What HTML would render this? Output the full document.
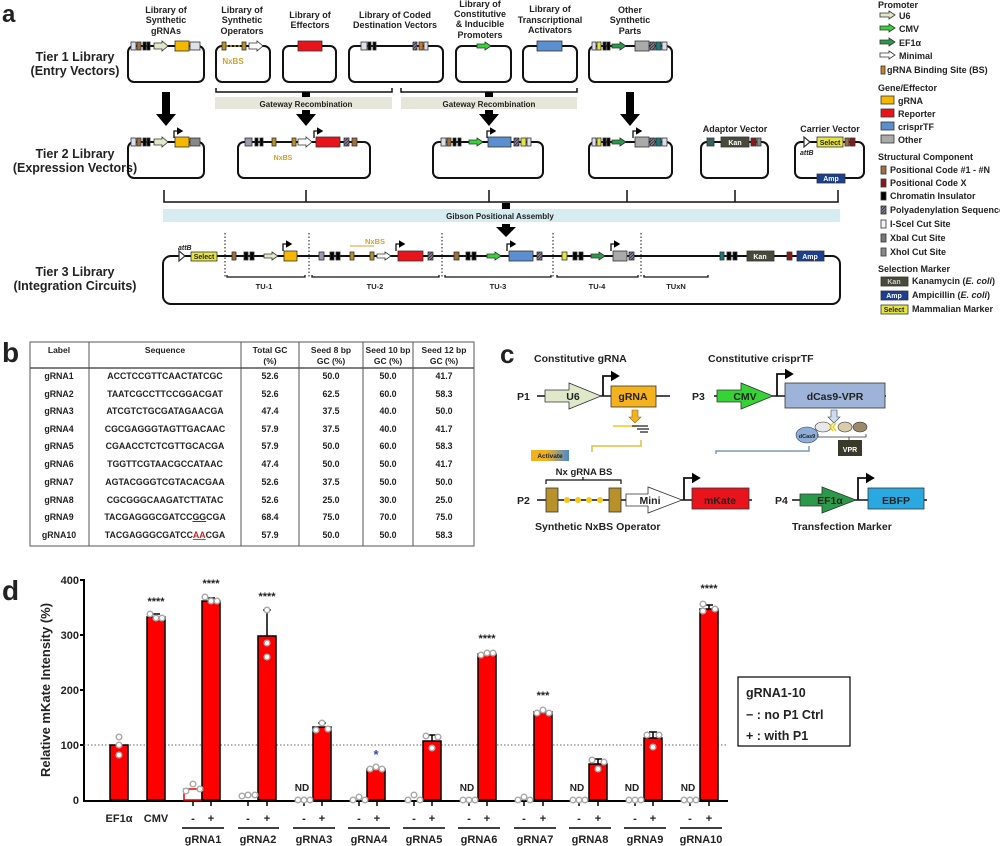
<!DOCTYPE html>
<html><head><meta charset="utf-8"><style>
html,body{margin:0;padding:0;background:#fff}
svg{display:block}
text{font-family:"Liberation Sans",Arial,sans-serif;font-weight:bold;fill:#222}
</style></head><body>
<svg width="1000" height="846" viewBox="0 0 1000 846" xmlns="http://www.w3.org/2000/svg">
<defs>
<marker id="ah" markerWidth="6" markerHeight="6" refX="4" refY="3" orient="auto"><path d="M0,0 L5,3 L0,6 z" fill="#000"/></marker>
<pattern id="hat" width="3" height="3" patternUnits="userSpaceOnUse"><rect width="3" height="3" fill="#8a7a9a"/><path d="M0,3 L3,0" stroke="#333" stroke-width="0.8"/></pattern>
<linearGradient id="act" x1="0" x2="1"><stop offset="0.4" stop-color="#f2b21f"/><stop offset="1" stop-color="#4a88d0"/></linearGradient>
</defs>

<!-- ============ PANEL A ============ -->
<text x="2" y="22" font-size="24">a</text>
<g font-size="12.5" text-anchor="middle">
<text x="75" y="61">Tier 1 Library</text><text x="75" y="75">(Entry Vectors)</text>
<text x="75" y="158">Tier 2 Library</text><text x="75" y="172">(Expression Vectors)</text>
<text x="75" y="276">Tier 3 Library</text><text x="75" y="290">(Integration Circuits)</text>
</g>
<g font-size="9" text-anchor="middle">
<text x="166" y="13">Library of</text><text x="166" y="23">Synthetic</text><text x="166" y="34">gRNAs</text>
<text x="242" y="13">Library of</text><text x="242" y="23">Synthetic</text><text x="242" y="34">Operators</text>
<text x="310" y="18">Library of</text><text x="310" y="28">Effectors</text>
<text x="395" y="18">Library of Coded</text><text x="395" y="28">Destination Vectors</text>
<text x="480" y="7">Library of</text><text x="480" y="17">Constitutive</text><text x="480" y="27">&amp; Inducible</text><text x="480" y="38">Promoters</text>
<text x="550" y="12">Library of</text><text x="550" y="23">Transcriptional</text><text x="550" y="33">Activators</text>
<text x="630" y="13">Other</text><text x="630" y="23">Synthetic</text><text x="630" y="34">Parts</text>
<text x="735" y="132">Adaptor Vector</text>
<text x="830" y="132">Carrier Vector</text>
</g>
<g fill="none" stroke="#111" stroke-width="2">
<rect x="128" y="46" width="76" height="36" rx="6"/>
<rect x="216" y="46" width="54" height="36" rx="6"/>
<rect x="283" y="46" width="53" height="36" rx="6"/>
<rect x="349" y="46" width="94" height="36" rx="6"/>
<rect x="456" y="46" width="55" height="36" rx="6"/>
<rect x="523" y="46" width="54" height="36" rx="6"/>
<rect x="589" y="46" width="83" height="36" rx="6"/>
<rect x="128" y="142" width="76" height="36" rx="6"/>
<rect x="238" y="142" width="132" height="36" rx="6"/>
<rect x="433" y="142" width="110" height="36" rx="6"/>
<rect x="589" y="142" width="83" height="36" rx="6"/>
<rect x="701" y="142" width="67" height="36" rx="6"/>
<rect x="795" y="142" width="69" height="36" rx="6"/>
<rect x="163" y="256" width="677" height="48" rx="8"/>
</g>
<g stroke="#333" stroke-width="0.8">
<rect x="131" y="42" width="5" height="8" fill="#dde0ea"/><rect x="137" y="42" width="4" height="8" fill="#a0703a"/>
<rect x="143" y="42" width="3" height="8" fill="#000"/><rect x="147" y="42" width="3" height="8" fill="#000"/>
<path d="M154,43 h8 v-2 l6,5 l-6,5 v-2 h-8 z" fill="#dfe8c8"/>
<rect x="175" y="41" width="14" height="10" fill="#f5b800"/><rect x="190" y="42" width="10" height="8" fill="#dde0ea"/>
<rect x="222" y="42" width="4" height="8" fill="#b8912a"/><rect x="242" y="42" width="4" height="8" fill="#b8912a"/>
<path d="M249,43 h8 v-2 l6,5 l-6,5 v-2 h-8 z" fill="#fff"/>
<rect x="298" y="41" width="24" height="10" fill="#e8131b"/>
<rect x="361" y="42" width="6" height="8" fill="#dde0ea"/><rect x="368" y="42" width="3" height="8" fill="#000"/><rect x="373" y="42" width="3" height="8" fill="#000"/>
<rect x="413" y="42" width="4" height="8" fill="url(#hat)"/><rect x="419" y="42" width="4" height="8" fill="#c8782a"/><rect x="424" y="42" width="4" height="8" fill="#dde0ea"/>
<path d="M477,44 h8 v-2 l6,4 l-6,4 v-2 h-8 z" fill="#35d335"/>
<rect x="537" y="41" width="25" height="10" fill="#5b8fd0"/>
<rect x="592" y="42" width="4" height="8" fill="#dde0ea"/><rect x="597" y="42" width="4" height="8" fill="#e5e540"/><rect x="603" y="42" width="3" height="8" fill="#000"/><rect x="607" y="42" width="3" height="8" fill="#000"/>
<path d="M612,44 h8 v-2 l6,4 l-6,4 v-2 h-8 z" fill="#2a9a4a"/>
<rect x="635" y="41" width="14" height="10" fill="#aaa"/><rect x="650" y="42" width="5" height="8" fill="url(#hat)"/><rect x="656" y="42" width="5" height="8" fill="#1a7a7a"/><rect x="662" y="42" width="5" height="8" fill="#dde0ea"/>
</g>
<path d="M226,46 h16" stroke="#b8912a" stroke-width="1.5" stroke-dasharray="2,2"/>
<text x="233" y="64" font-size="8" text-anchor="middle" style="fill:#d4a02a">NxBS</text>
<g stroke="#111" stroke-width="1.5" fill="none">
<path d="M216,88 v4 h176 v-4"/><path d="M401,88 v4 h176 v-4"/>
<path d="M164,190 v12 h674 v-12"/><path d="M306,190 v12"/><path d="M489,190 v12"/><path d="M627,190 v12"/><path d="M735,190 v12"/>
</g>
<rect x="215" y="97" width="177" height="12" fill="#e6e6da"/><rect x="401" y="97" width="176" height="12" fill="#e6e6da"/>
<text x="306" y="107" font-size="8" text-anchor="middle">Gateway Recombination</text>
<text x="489" y="107" font-size="8" text-anchor="middle">Gateway Recombination</text>
<rect x="163" y="209" width="677" height="13" fill="#d6ecf1"/>
<text x="500" y="219" font-size="8" text-anchor="middle">Gibson Positional Assembly</text>
<g fill="#000">
<path d="M162,92 h8 v22 h6 l-10,12 l-10,-12 h6 z"/>
<path d="M302,110 h8 v4 h6 l-10,12 l-10,-12 h6 z"/>
<path d="M485,110 h8 v4 h6 l-10,12 l-10,-12 h6 z"/>
<path d="M626,92 h8 v22 h6 l-10,12 l-10,-12 h6 z"/>
<path d="M502,224 h8 v3 h6 l-10,10 l-10,-10 h6 z"/>
<rect x="302" y="92" width="8" height="5"/><rect x="485" y="92" width="8" height="5"/><rect x="502" y="203" width="8" height="6"/>
</g>
<g stroke="#333" stroke-width="0.8">
<rect x="131" y="138" width="5" height="8" fill="#dde0ea"/><rect x="137" y="138" width="4" height="8" fill="#a0703a"/><rect x="143" y="138" width="3" height="8" fill="#000"/><rect x="147" y="138" width="3" height="8" fill="#000"/>
<path d="M154,139 h8 v-2 l6,5 l-6,5 v-2 h-8 z" fill="#dfe8c8"/>
<rect x="175" y="137" width="14" height="10" fill="#f5b800"/><rect x="190" y="138" width="10" height="8" fill="#888"/>
<rect x="245" y="138" width="7" height="8" fill="#9a9ab0"/><rect x="255" y="138" width="3" height="8" fill="#000"/><rect x="260" y="138" width="3" height="8" fill="#000"/>
<rect x="272" y="138" width="4" height="8" fill="#b8912a"/><rect x="292" y="138" width="4" height="8" fill="#b8912a"/>
<path d="M298,139 h8 v-2 l6,5 l-6,5 v-2 h-8 z" fill="#fff"/>
<rect x="316" y="137" width="24" height="10" fill="#e8131b"/><rect x="344" y="138" width="5" height="8" fill="url(#hat)"/><rect x="352" y="138" width="5" height="8" fill="#a0703a"/>
<rect x="441" y="138" width="5" height="8" fill="#dde0ea"/><rect x="447" y="138" width="4" height="8" fill="#a0703a"/><rect x="453" y="138" width="3" height="8" fill="#000"/><rect x="458" y="138" width="3" height="8" fill="#000"/>
<path d="M469,140 h8 v-2 l6,4 l-6,4 v-2 h-8 z" fill="#35d335"/>
<rect x="488" y="137" width="23" height="10" fill="#5b8fd0"/><rect x="514" y="138" width="5" height="8" fill="url(#hat)"/><rect x="521" y="138" width="5" height="8" fill="#e5e540"/><rect x="527" y="138" width="4" height="8" fill="#dde0ea"/>
<rect x="592" y="138" width="4" height="8" fill="#dde0ea"/><rect x="597" y="138" width="4" height="8" fill="#e5e540"/><rect x="603" y="138" width="3" height="8" fill="#000"/><rect x="607" y="138" width="3" height="8" fill="#000"/>
<path d="M612,140 h8 v-2 l6,4 l-6,4 v-2 h-8 z" fill="#2a9a4a"/>
<rect x="635" y="137" width="14" height="10" fill="#aaa"/><rect x="650" y="138" width="5" height="8" fill="url(#hat)"/><rect x="656" y="138" width="5" height="8" fill="#1a7a7a"/><rect x="662" y="138" width="5" height="8" fill="#dde0ea"/>
<rect x="707" y="138" width="7" height="8" fill="#3a6060"/><rect x="721" y="137" width="28" height="10" fill="#4a4a3a"/><rect x="751" y="138" width="5" height="8" fill="#8a1a1a"/><rect x="757" y="138" width="4" height="8" fill="#888"/>
<path d="M804,137 l6,5 l-6,5 z" fill="#fff" stroke-width="1.2"/>
<rect x="817" y="137" width="26" height="10" fill="#e5e540"/><rect x="845" y="138" width="4" height="8" fill="#a0703a"/><rect x="850" y="138" width="5" height="8" fill="#8a1a1a"/>
<rect x="817" y="174" width="28" height="9" fill="#1d3f8f"/>
</g>
<g font-size="7" text-anchor="middle">
<text x="735" y="145" style="fill:#fff">Kan</text><text x="830" y="145">Select</text><text x="831" y="181" style="fill:#fff">Amp</text>
<text x="283" y="160" style="fill:#d4a02a">NxBS</text>
</g>
<text x="800" y="155" font-size="7" font-style="italic">attB</text>
<g stroke="#111" stroke-width="1.3" fill="none" marker-end="url(#ah)">
<path d="M174,138 v-7 h8"/><path d="M314,138 v-7 h8"/><path d="M487,138 v-7 h8"/><path d="M633,138 v-7 h8"/>
</g>
<g stroke="#111" stroke-width="1" stroke-dasharray="1.5,2" fill="none"><path d="M225,233 v44"/><path d="M309,233 v44"/><path d="M442,233 v44"/><path d="M553,233 v44"/><path d="M641,233 v44"/><path d="M645,256 h60" stroke-width="2"/></g>
<g stroke="#111" stroke-width="1.3" fill="none">
<path d="M227,275 v2 h78 v-2"/><path d="M312,275 v2 h127 v-2"/><path d="M445,275 v2 h106 v-2"/><path d="M557,275 v2 h81 v-2"/><path d="M644,275 v2 h64 v-2"/>
</g>
<g font-size="7.5" text-anchor="middle"><text x="264" y="289">TU-1</text><text x="375" y="289">TU-2</text><text x="498" y="289">TU-3</text><text x="597" y="289">TU-4</text><text x="676" y="289">TUxN</text></g>
<text x="178" y="250" font-size="7" font-style="italic">attB</text>
<text x="375" y="244" font-size="7.5" text-anchor="middle" style="fill:#d4a02a">NxBS</text>
<g stroke="#333" stroke-width="0.8">
<path d="M179,251 l6,5 l-6,5 z" fill="#fff" stroke-width="1.2"/>
<rect x="191" y="252" width="26" height="9" fill="#e5e540"/>
<rect x="232" y="252" width="4" height="8" fill="#a0703a"/><rect x="244" y="252" width="4" height="8" fill="#000"/><rect x="250" y="252" width="4" height="8" fill="#000"/>
<path d="M264,254 h8 v-2 l6,4 l-6,4 v-2 h-8 z" fill="#dfe8c8"/><rect x="284" y="251" width="13" height="10" fill="#f5b800"/>
<rect x="319" y="252" width="5" height="8" fill="#9a9ab0"/><rect x="330" y="252" width="4" height="8" fill="#000"/><rect x="336" y="252" width="4" height="8" fill="#000"/>
<rect x="350" y="252" width="4" height="8" fill="#b8912a"/><rect x="370" y="252" width="4" height="8" fill="#b8912a"/>
<path d="M377,254 h8 v-2 l6,4 l-6,4 v-2 h-8 z" fill="#fff"/><rect x="398" y="251" width="25" height="10" fill="#e8131b"/><rect x="428" y="252" width="5" height="8" fill="url(#hat)"/>
<rect x="454" y="252" width="5" height="8" fill="#a0703a"/><rect x="466" y="252" width="4" height="8" fill="#000"/><rect x="472" y="252" width="4" height="8" fill="#000"/>
<path d="M487,254 h8 v-2 l6,4 l-6,4 v-2 h-8 z" fill="#35d335"/><rect x="509" y="251" width="24" height="10" fill="#5b8fd0"/><rect x="537" y="252" width="5" height="8" fill="url(#hat)"/>
<rect x="562" y="252" width="5" height="8" fill="#e5e540"/><rect x="573" y="252" width="4" height="8" fill="#000"/><rect x="579" y="252" width="4" height="8" fill="#000"/>
<path d="M591,254 h8 v-2 l6,4 l-6,4 v-2 h-8 z" fill="#2a9a4a"/><rect x="613" y="251" width="14" height="10" fill="#aaa"/><rect x="629" y="252" width="5" height="8" fill="url(#hat)"/>
<rect x="720" y="252" width="4" height="8" fill="#1a7a7a"/><rect x="727" y="252" width="4" height="8" fill="#000"/><rect x="733" y="252" width="4" height="8" fill="#000"/>
<rect x="747" y="251" width="27" height="10" fill="#4a4a3a"/><rect x="787" y="252" width="5" height="8" fill="#8a1a1a"/><rect x="797" y="251" width="27" height="10" fill="#1d3f8f"/>
</g>
<g font-size="7" text-anchor="middle"><text x="204" y="259">Select</text><text x="760" y="259" style="fill:#fff">Kan</text><text x="810" y="259" style="fill:#fff">Amp</text></g>
<g stroke="#111" stroke-width="1.3" fill="none" marker-end="url(#ah)">
<path d="M283,251 v-7 h8"/><path d="M396,251 v-7 h8"/><path d="M507,251 v-7 h8"/><path d="M611,251 v-7 h8"/>
</g>
<path d="M350,246 h24" stroke="#d4a02a" stroke-width="1"/>

<!-- legend -->
<g font-size="9">
<text x="878" y="8">Promoter</text>
<text x="899" y="19">U6</text><text x="899" y="32">CMV</text><text x="899" y="46">EF1α</text><text x="899" y="59">Minimal</text><text x="887" y="73">gRNA Binding Site (BS)</text>
<text x="878" y="91">Gene/Effector</text>
<text x="898" y="104">gRNA</text><text x="898" y="117">Reporter</text><text x="898" y="130">crisprTF</text><text x="898" y="143">Other</text>
<text x="878" y="160">Structural Component</text>
<text x="890" y="173">Positional Code #1 - #N</text><text x="890" y="186">Positional Code X</text><text x="890" y="199">Chromatin Insulator</text><text x="890" y="213">Polyadenylation Sequence</text><text x="890" y="227">I-SceI Cut Site</text><text x="890" y="241">XbaI Cut Site</text><text x="890" y="255">XhoI Cut Site</text>
<text x="878" y="272">Selection Marker</text>
<text x="912" y="284">Kanamycin (<tspan font-style="italic">E. coli</tspan>)</text><text x="912" y="298">Ampicillin (<tspan font-style="italic">E. coli</tspan>)</text><text x="912" y="312">Mammalian Marker</text>
</g>
<g stroke="#333" stroke-width="0.8">
<path d="M880,13 h9 v-2 l6,4 l-6,4 v-2 h-9 z" fill="#dfe8c8"/>
<path d="M880,26 h9 v-2 l6,4 l-6,4 v-2 h-9 z" fill="#35d335"/>
<path d="M880,40 h9 v-2 l6,4 l-6,4 v-2 h-9 z" fill="#2a9a4a"/>
<path d="M880,53 h9 v-2 l6,4 l-6,4 v-2 h-9 z" fill="#fff"/>
<rect x="881" y="66" width="4" height="8" fill="#c8822a"/>
<rect x="881" y="96" width="13" height="8" fill="#f5b800"/><rect x="881" y="109" width="13" height="8" fill="#e8131b"/><rect x="881" y="122" width="13" height="8" fill="#5b8fd0"/><rect x="881" y="135" width="13" height="8" fill="#aaa"/>
<rect x="881" y="166" width="5" height="8" fill="#a0703a"/><rect x="881" y="179" width="5" height="8" fill="#8a1a1a"/><rect x="881" y="192" width="5" height="8" fill="#000"/><rect x="881" y="206" width="5" height="8" fill="url(#hat)"/><rect x="881" y="220" width="5" height="8" fill="#f4f4f8"/><rect x="881" y="234" width="5" height="8" fill="#777"/><rect x="881" y="248" width="5" height="8" fill="#888"/>
<rect x="881" y="277" width="27" height="9" fill="#4a4a3a"/><rect x="881" y="291" width="27" height="9" fill="#1d3f8f"/><rect x="881" y="305" width="27" height="9" fill="#e5e540"/>
</g>
<g font-size="7" text-anchor="middle"><text x="894" y="284" style="fill:#ccc">Kan</text><text x="894" y="298" style="fill:#fff">Amp</text><text x="894" y="312">Select</text></g>

<!-- ============ PANEL B ============ -->
<text x="2" y="362" font-size="28">b</text>
<g stroke="#555" stroke-width="1" fill="none">
<rect x="30" y="342" width="444" height="204"/>
<path d="M89,342 v204 M241,342 v204 M299,342 v204 M363,342 v204 M413,342 v204"/>
<path d="M30,368 h444" stroke-width="1.5"/>
</g>
<g font-size="8.5" text-anchor="middle">
<text x="59" y="353">Label</text><text x="165" y="353">Sequence</text>
<text x="270" y="353">Total GC</text><text x="270" y="364">(%)</text>
<text x="331" y="353">Seed 8 bp</text><text x="331" y="364">GC (%)</text>
<text x="388" y="353">Seed 10 bp</text><text x="388" y="364">GC (%)</text>
<text x="444" y="353">Seed 12 bp</text><text x="444" y="364">GC (%)</text>
</g>
<g font-size="8.8" text-anchor="middle">
<text x="59" y="379">gRNA1</text><text x="165" y="379">ACCTCCGTTCAACTATCGC</text><text x="270" y="379">52.6</text><text x="331" y="379">50.0</text><text x="388" y="379">50.0</text><text x="444" y="379">41.7</text>
<text x="59" y="397">gRNA2</text><text x="165" y="397">TAATCGCCTTCCGGACGAT</text><text x="270" y="397">52.6</text><text x="331" y="397">62.5</text><text x="388" y="397">60.0</text><text x="444" y="397">58.3</text>
<text x="59" y="414">gRNA3</text><text x="165" y="414">ATCGTCTGCGATAGAACGA</text><text x="270" y="414">47.4</text><text x="331" y="414">37.5</text><text x="388" y="414">40.0</text><text x="444" y="414">50.0</text>
<text x="59" y="432">gRNA4</text><text x="165" y="432">CGCGAGGGTAGTTGACAAC</text><text x="270" y="432">57.9</text><text x="331" y="432">37.5</text><text x="388" y="432">40.0</text><text x="444" y="432">41.7</text>
<text x="59" y="449">gRNA5</text><text x="165" y="449">CGAACCTCTCGTTGCACGA</text><text x="270" y="449">57.9</text><text x="331" y="449">50.0</text><text x="388" y="449">60.0</text><text x="444" y="449">58.3</text>
<text x="59" y="467">gRNA6</text><text x="165" y="467">TGGTTCGTAACGCCATAAC</text><text x="270" y="467">47.4</text><text x="331" y="467">50.0</text><text x="388" y="467">50.0</text><text x="444" y="467">41.7</text>
<text x="59" y="485">gRNA7</text><text x="165" y="485">AGTACGGGTCGTACACGAA</text><text x="270" y="485">52.6</text><text x="331" y="485">37.5</text><text x="388" y="485">50.0</text><text x="444" y="485">50.0</text>
<text x="59" y="503">gRNA8</text><text x="165" y="503">CGCGGGCAAGATCTTATAC</text><text x="270" y="503">52.6</text><text x="331" y="503">25.0</text><text x="388" y="503">30.0</text><text x="444" y="503">25.0</text>
<text x="59" y="520">gRNA9</text><text x="165" y="520">TACGAGGGCGATCC<tspan text-decoration="underline">GG</tspan>CGA</text><text x="270" y="520">68.4</text><text x="331" y="520">75.0</text><text x="388" y="520">70.0</text><text x="444" y="520">75.0</text>
<text x="59" y="538">gRNA10</text><text x="165" y="538">TACGAGGGCGATCC<tspan style="fill:#d02020" text-decoration="underline">AA</tspan>CGA</text><text x="270" y="538">57.9</text><text x="331" y="538">50.0</text><text x="388" y="538">50.0</text><text x="444" y="538">58.3</text>
</g>

<!-- ============ PANEL C ============ -->
<text x="500" y="363" font-size="26">c</text>
<g font-size="10.5"><text x="534" y="362">Constitutive gRNA</text><text x="708" y="362">Constitutive crisprTF</text>
<text x="535" y="530">Synthetic NxBS Operator</text><text x="792" y="530">Transfection Marker</text></g>
<g stroke="#111" stroke-width="1.5">
<path d="M537,396 h133"/><path d="M714,396 h172"/><path d="M537,500 h215"/><path d="M792,500 h135"/>
</g>
<g font-size="10.5"><text x="517" y="400">P1</text><text x="692" y="400">P3</text><text x="517" y="504">P2</text><text x="775" y="504">P4</text></g>
<g stroke="#333" stroke-width="0.8">
<path d="M545,390 h24 v-7 l32,13 l-32,13 v-7 h-24 z" fill="#dfe8c8"/>
<rect x="611" y="386" width="45" height="21" fill="#f5b21f"/>
<path d="M717,390 h24 v-7 l32,13 l-32,13 v-7 h-24 z" fill="#35d335"/>
<rect x="785" y="383" width="100" height="25" fill="#9db4d8"/>
<rect x="546" y="488" width="12" height="24" fill="#b8912a"/><rect x="609" y="488" width="12" height="24" fill="#b8912a"/>
<path d="M626,494 h22 v-7 l34,13 l-34,13 v-7 h-22 z" fill="#fff"/>
<rect x="692" y="488" width="57" height="21" fill="#e8131b"/>
<path d="M800,494 h22 v-7 l34,13 l-34,13 v-7 h-22 z" fill="#2a9a4a"/>
<rect x="868" y="488" width="56" height="21" fill="#2aa9e0"/>
</g>
<g fill="#f5c518"><circle cx="567" cy="500" r="3"/><circle cx="578" cy="500" r="3"/><circle cx="589" cy="500" r="3"/><circle cx="600" cy="500" r="3"/></g>
<g font-size="10.5" text-anchor="middle">
<text x="573" y="400">U6</text><text x="633" y="400">gRNA</text><text x="745" y="400">CMV</text><text x="835" y="400">dCas9-VPR</text>
<text x="650" y="504">Mini</text><text x="720" y="504">mKate</text><text x="830" y="504">EF1α</text><text x="896" y="504">EBFP</text>
<text x="584" y="475" font-size="9.5">Nx gRNA BS</text>
</g>
<g stroke="#111" stroke-width="1.8" fill="none" marker-end="url(#ah)">
<path d="M603,396 v-20 h15"/><path d="M777,396 v-22 h15"/><path d="M684,500 v-22 h15"/><path d="M858,500 v-22 h15"/>
</g>
<path d="M546,484 v-4 h75 v4 M583,480 v-3" stroke="#111" stroke-width="1.2" fill="none"/>
<path d="M632,410 h6 v7 h3 l-6,6 l-6,-6 h3 z" fill="#f5b21f" stroke="#8a6a10" stroke-width="0.6"/>
<path d="M831,410 h6 v7 h3 l-6,6 l-6,-6 h3 z" fill="#cfdcf0" stroke="#345" stroke-width="0.6"/>
<path d="M613,426 h24" stroke="#f5c518" stroke-width="1.5"/>
<path d="M632,426 h16 M637,429 h12 M640,432 h8" stroke="#222" stroke-width="1.2"/>
<path d="M641,440 v6 h-49 v6" stroke="#e0c040" stroke-width="1.5" fill="none"/>
<path d="M809,446 v5 h-93 v3" stroke="#7a9ab0" stroke-width="1.5" fill="none"/>
<ellipse cx="807" cy="435" rx="11" ry="8" fill="#8eaed8" stroke="#345" stroke-width="0.6"/>
<text x="807" y="438" font-size="5.5" text-anchor="middle">dCas9</text>
<ellipse cx="823" cy="427" rx="8" ry="5" fill="#e8e8e8" stroke="#333" stroke-width="0.6"/>
<ellipse cx="845" cy="427" rx="7" ry="5" fill="#d8ccaa" stroke="#333" stroke-width="0.6"/>
<ellipse cx="860" cy="427" rx="7" ry="5" fill="#9a8a6a" stroke="#333" stroke-width="0.6"/>
<path d="M833,423 l-3,4 l3,4 M836,423 l-3,4 l3,4" stroke="#e5d020" stroke-width="1.5" fill="none"/>
<path d="M818,434 v3 h48 v-3 M849,437 v3" stroke="#333" stroke-width="0.8" fill="none"/>
<rect x="838" y="440" width="24" height="16" fill="#3a3a2a"/>
<text x="850" y="452" font-size="7" text-anchor="middle" style="fill:#fff">VPR</text>
<rect x="531" y="450" width="38" height="11" fill="url(#act)"/>
<text x="550" y="458" font-size="6.5" text-anchor="middle">Activate</text>

<!-- ============ PANEL D ============ -->
<text x="2" y="600" font-size="28">d</text>
<text transform="translate(50,690) rotate(-90)" font-size="13" text-anchor="middle">Relative mKate Intensity (%)</text>
<g font-size="11" text-anchor="end"><text x="79" y="584">400</text><text x="79" y="639">300</text><text x="79" y="694">200</text><text x="79" y="749">100</text><text x="79" y="804">0</text></g>
<g stroke="#000" stroke-width="2" fill="none"><path d="M84,579 v222 h644"/><path d="M80,580 h4 M80,635 h4 M80,690 h4 M80,745 h4"/></g>
<path d="M84,745 h644" stroke="#666" stroke-width="1" stroke-dasharray="1.5,2"/>
<g fill="#f00" stroke="#000" stroke-width="1.5">
<rect x="110" y="745" width="18" height="55"/>
<rect x="147" y="617" width="18" height="183"/>
<rect x="184" y="789" width="18" height="11" fill="#fff" stroke="#e00"/>
<rect x="202" y="601" width="18" height="199"/>
<rect x="258" y="636" width="18" height="164"/>
<rect x="313" y="727" width="18" height="73"/>
<rect x="367" y="769" width="18" height="31"/>
<rect x="423" y="741" width="18" height="59"/>
<rect x="478" y="654" width="18" height="146"/>
<rect x="534" y="712" width="18" height="88"/>
<rect x="589" y="764" width="18" height="36"/>
<rect x="644" y="738" width="18" height="62"/>
<rect x="700" y="609" width="18" height="191"/>
</g>
<g stroke="#000" stroke-width="1.5">
<path d="M156,617 v-3 M152,614 h8"/><path d="M211,601 v-3 M207,598 h8"/><path d="M267,636 v-26 M263,610 h8"/>
<path d="M322,727 v-4 M318,723 h8"/><path d="M432,741 v-6 M428,735 h8"/><path d="M598,764 v-5 M594,759 h8"/><path d="M653,738 v-6 M649,732 h8"/><path d="M709,609 v-4 M705,605 h8"/>
</g>
<g stroke="#000" stroke-width="1.5"><path d="M193,801 v5 M211,801 v5 M248,801 v5 M267,801 v5 M304,801 v5 M322,801 v5 M359,801 v5 M377,801 v5 M414,801 v5 M432,801 v5 M469,801 v5 M487,801 v5 M524,801 v5 M543,801 v5 M579,801 v5 M598,801 v5 M635,801 v5 M653,801 v5 M690,801 v5 M709,801 v5"/></g>
<g fill="#fff" stroke="#aaa" stroke-width="1.5">
<circle cx="119" cy="737" r="2.8"/><circle cx="119" cy="745" r="2.8"/><circle cx="119" cy="755" r="2.8"/>
<circle cx="150" cy="614" r="2.8"/><circle cx="156" cy="618" r="2.8"/><circle cx="162" cy="618" r="2.8"/>
<circle cx="186" cy="791" r="2.8"/><circle cx="193" cy="784" r="2.8"/><circle cx="200" cy="789" r="2.8"/>
<circle cx="205" cy="597" r="2.8"/><circle cx="211" cy="601" r="2.8"/><circle cx="217" cy="601" r="2.8"/>
<circle cx="242" cy="796" r="2.8"/><circle cx="248" cy="795" r="2.8"/><circle cx="255" cy="795" r="2.8"/>
<circle cx="267" cy="610" r="2.8"/><circle cx="267" cy="643" r="2.8"/><circle cx="267" cy="657" r="2.8"/>
<circle cx="298" cy="800" r="2.8"/><circle cx="304" cy="800" r="2.8"/><circle cx="310" cy="800" r="2.8"/>
<circle cx="316" cy="730" r="2.8"/><circle cx="322" cy="723" r="2.8"/><circle cx="328" cy="729" r="2.8"/>
<circle cx="353" cy="800" r="2.8"/><circle cx="359" cy="797" r="2.8"/><circle cx="365" cy="800" r="2.8"/>
<circle cx="370" cy="769" r="2.8"/><circle cx="376" cy="767" r="2.8"/><circle cx="382" cy="769" r="2.8"/>
<circle cx="408" cy="800" r="2.8"/><circle cx="414" cy="795" r="2.8"/><circle cx="420" cy="800" r="2.8"/>
<circle cx="426" cy="736" r="2.8"/><circle cx="432" cy="748" r="2.8"/><circle cx="438" cy="737" r="2.8"/>
<circle cx="463" cy="800" r="2.8"/><circle cx="469" cy="800" r="2.8"/><circle cx="475" cy="800" r="2.8"/>
<circle cx="481" cy="655" r="2.8"/><circle cx="487" cy="653" r="2.8"/><circle cx="493" cy="653" r="2.8"/>
<circle cx="518" cy="800" r="2.8"/><circle cx="524" cy="797" r="2.8"/><circle cx="530" cy="800" r="2.8"/>
<circle cx="537" cy="713" r="2.8"/><circle cx="543" cy="710" r="2.8"/><circle cx="549" cy="713" r="2.8"/>
<circle cx="573" cy="800" r="2.8"/><circle cx="579" cy="800" r="2.8"/><circle cx="585" cy="800" r="2.8"/>
<circle cx="592" cy="760" r="2.8"/><circle cx="598" cy="769" r="2.8"/><circle cx="604" cy="762" r="2.8"/>
<circle cx="629" cy="800" r="2.8"/><circle cx="635" cy="800" r="2.8"/><circle cx="641" cy="800" r="2.8"/>
<circle cx="647" cy="735" r="2.8"/><circle cx="653" cy="747" r="2.8"/><circle cx="659" cy="735" r="2.8"/>
<circle cx="684" cy="800" r="2.8"/><circle cx="690" cy="800" r="2.8"/><circle cx="696" cy="800" r="2.8"/>
<circle cx="703" cy="604" r="2.8"/><circle cx="703" cy="611" r="2.8"/><circle cx="715" cy="609" r="2.8"/>
</g>
<g font-size="11" text-anchor="middle">
<text x="156" y="605">****</text><text x="211" y="587">****</text><text x="267" y="600">****</text><text x="487" y="642">****</text><text x="543" y="699">***</text><text x="709" y="592">****</text>
<text x="376" y="759" style="fill:#3344cc" font-size="13">*</text>
</g>
<g font-size="10" text-anchor="middle"><text x="302" y="791">ND</text><text x="467" y="791">ND</text><text x="577" y="791">ND</text><text x="632" y="791">ND</text><text x="688" y="791">ND</text></g>
<g font-size="11" text-anchor="middle">
<text x="119" y="822">EF1α</text><text x="156" y="822">CMV</text>
<text x="193" y="822">-</text><text x="211" y="822">+</text><text x="248" y="822">-</text><text x="267" y="822">+</text><text x="304" y="822">-</text><text x="322" y="822">+</text><text x="359" y="822">-</text><text x="377" y="822">+</text><text x="414" y="822">-</text><text x="432" y="822">+</text><text x="469" y="822">-</text><text x="487" y="822">+</text><text x="524" y="822">-</text><text x="543" y="822">+</text><text x="579" y="822">-</text><text x="598" y="822">+</text><text x="635" y="822">-</text><text x="653" y="822">+</text><text x="690" y="822">-</text><text x="709" y="822">+</text>
</g>
<g stroke="#000" stroke-width="1.5"><path d="M182,828 h42 M238,828 h41 M293,828 h42 M348,828 h42 M403,828 h42 M458,828 h42 M514,828 h42 M569,828 h42 M624,828 h42 M680,828 h42"/></g>
<g font-size="11" text-anchor="middle"><text x="203" y="843">gRNA1</text><text x="258" y="843">gRNA2</text><text x="314" y="843">gRNA3</text><text x="369" y="843">gRNA4</text><text x="424" y="843">gRNA5</text><text x="479" y="843">gRNA6</text><text x="535" y="843">gRNA7</text><text x="590" y="843">gRNA8</text><text x="645" y="843">gRNA9</text><text x="701" y="843">gRNA10</text></g>
<rect x="738" y="677" width="112" height="69" fill="none" stroke="#000" stroke-width="1.2"/>
<g font-size="12.5"><text x="746" y="697">gRNA1-10</text><text x="746" y="719">− : no P1 Ctrl</text><text x="746" y="740">+ : with P1</text></g>
</svg>
</body></html>
